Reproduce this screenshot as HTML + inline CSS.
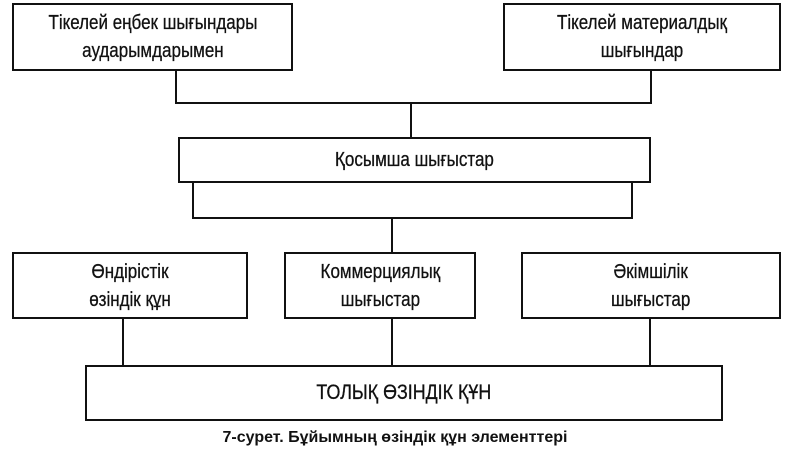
<!DOCTYPE html>
<html><head><meta charset="utf-8"><style>
body{margin:0;width:800px;height:460px;background:#fff;position:relative;overflow:hidden;font-family:"Liberation Sans",sans-serif;color:#111}
.b{position:absolute;border:2.5px solid #111;box-sizing:border-box;display:flex;align-items:center;justify-content:center;text-align:center;font-size:20px;line-height:28px;background:#fff}
.b span{display:inline-block;transform:scaleX(0.85);-webkit-text-stroke:0.3px #111}
.l{position:absolute;background:#111}
</style></head><body>
<div class="l" style="left:175px;top:68px;width:2px;height:36px"></div>
<div class="l" style="left:650px;top:68px;width:2px;height:36px"></div>
<div class="l" style="left:175px;top:102px;width:477px;height:2px"></div>
<div class="l" style="left:410px;top:102px;width:2px;height:37px"></div>
<div class="l" style="left:192px;top:180px;width:2px;height:39px"></div>
<div class="l" style="left:631px;top:180px;width:2px;height:39px"></div>
<div class="l" style="left:192px;top:217px;width:441px;height:2px"></div>
<div class="l" style="left:391px;top:217px;width:2px;height:37px"></div>
<div class="l" style="left:122px;top:316px;width:2px;height:51px"></div>
<div class="l" style="left:391px;top:316px;width:2px;height:51px"></div>
<div class="l" style="left:649px;top:316px;width:2px;height:51px"></div>
<div class="b" style="left:12px;top:3px;width:281px;height:68px"><span>Тікелей еңбек шығындары<br>аударымдарымен</span></div>
<div class="b" style="left:503px;top:3px;width:278px;height:68px"><span>Тікелей материалдық<br>шығындар</span></div>
<div class="b" style="left:178px;top:137px;width:473px;height:46px"><span>Қосымша шығыстар</span></div>
<div class="b" style="left:12px;top:252px;width:236px;height:67px"><span>Өндірістік<br>өзіндік құн</span></div>
<div class="b" style="left:284px;top:252px;width:192px;height:67px"><span>Коммерциялық<br>шығыстар</span></div>
<div class="b" style="left:521px;top:252px;width:260px;height:67px"><span>Әкімшілік<br>шығыстар</span></div>
<div class="b" style="left:85px;top:365px;width:638px;height:56px;font-size:21px"><span>ТОЛЫҚ ӨЗІНДІК ҚҰН</span></div>
<div style="position:absolute;left:0;width:790px;top:429px;text-align:center;font-size:16px;font-weight:bold">7-сурет. Бұйымның өзіндік құн элементтері</div>
</body></html>
